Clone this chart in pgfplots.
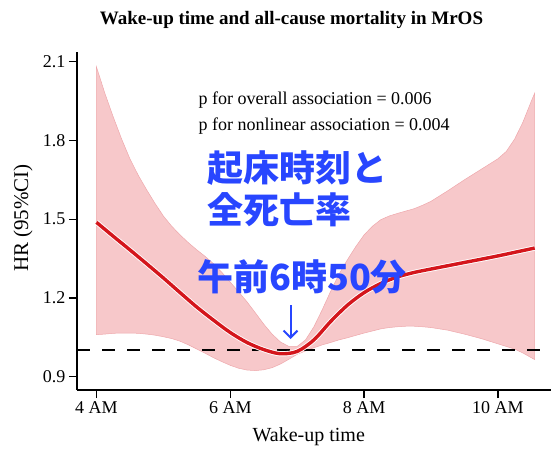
\documentclass[border=0pt]{standalone}
\usepackage{pgfplots}
\pgfplotsset{compat=1.18}
\usepackage{pgfplotstable}
\usetikzlibrary{arrows.meta}
\usepackage{fontspec}
\setmainfont{Liberation Serif}
\newfontfamily\cjk{Noto Sans CJK JP}

\definecolor{bandfill}{RGB}{247,200,202}
\definecolor{bandedge}{RGB}{238,168,172}
\definecolor{hrred}{RGB}{212,22,28}
\definecolor{jpblue}{RGB}{40,70,255}

% spline estimate of the hazard ratio
\pgfplotstableread{
x     hr
4.00  1.488
4.25  1.435
4.50  1.383
4.75  1.330
5.00  1.276
5.25  1.220
5.50  1.165
5.75  1.115
6.00  1.068
6.25  1.030
6.50  1.003
6.75  0.987
7.00  0.996
7.25  1.040
7.50  1.110
7.75  1.172
8.00  1.220
8.25  1.255
8.50  1.280
8.75  1.297
9.00  1.310
9.50  1.335
10.00 1.360
10.55 1.390
}\hrline

% 95% confidence band as one closed outline:
% upper limit left to right, then lower limit right to left
\pgfplotstableread{
x      ci
4.000  2.080
4.125  1.980
4.250  1.890
4.375  1.806
4.500  1.730
4.625  1.667
4.750  1.612
4.875  1.560
5.000  1.512
5.125  1.473
5.250  1.440
5.375  1.410
5.500  1.383
5.625  1.358
5.750  1.330
5.875  1.297
6.000  1.260
6.125  1.223
6.250  1.185
6.375  1.143
6.500  1.100
6.625  1.062
6.750  1.032
6.875  1.015
7.000  1.015
7.125  1.040
7.250  1.090
7.375  1.155
7.500  1.225
7.625  1.290
7.750  1.345
7.875  1.395
8.000  1.440
8.125  1.473
8.250  1.498
8.375  1.512
8.500  1.522
8.625  1.531
8.750  1.540
8.875  1.553
9.000  1.568
9.250  1.608
9.500  1.650
9.750  1.690
10.000 1.730
10.125 1.758
10.250 1.805
10.375 1.870
10.500 1.950
10.550 1.980
10.550 0.965
10.500 0.972
10.375 0.990
10.250 1.005
10.125 1.015
10.000 1.025
9.750  1.045
9.500  1.062
9.250  1.077
9.000  1.087
8.875  1.090
8.750  1.092
8.625  1.092
8.500  1.090
8.375  1.087
8.250  1.082
8.125  1.074
8.000  1.066
7.875  1.057
7.750  1.048
7.625  1.040
7.500  1.030
7.375  1.021
7.250  1.010
7.125  0.998
7.000  0.985
6.875  0.966
6.750  0.948
6.625  0.934
6.500  0.926
6.375  0.923
6.250  0.925
6.125  0.932
6.000  0.943
5.875  0.957
5.750  0.972
5.625  0.989
5.500  1.005
5.375  1.021
5.250  1.035
5.125  1.045
5.000  1.052
4.875  1.058
4.750  1.062
4.625  1.065
4.500  1.066
4.375  1.066
4.250  1.065
4.125  1.062
4.000  1.060
}\hrband

\begin{document}
\begin{tikzpicture}
\useasboundingbox (-77pt,-63pt) rectangle (474pt,390pt);
\begin{axis}[
  at={(0pt,0pt)}, anchor=south west,
  scale only axis, width=474pt, height=338pt,
  xmin=3.709, xmax=10.794, ymin=0.849, ymax=2.137,
  axis x line*=bottom, axis y line*=left,
  axis line style={line width=1.3pt, black},
  tick align=outside, major tick length=8pt,
  tick style={line width=1.3pt, black},
  xtick={4,6,8,10}, xticklabels={4 AM,6 AM,8 AM,10 AM},
  ytick={0.9,1.2,1.5,1.8,2.1},
  yticklabel style={/pgf/number format/fixed, /pgf/number format/fixed zerofill, /pgf/number format/precision=1},
  /pgf/number format/assume math mode=true,
  ticklabel style={font=\fontsize{18}{20}\selectfont},
  xlabel={Wake-up time},
  ylabel={HR (95\%CI)},
  xlabel style={font=\fontsize{20}{22}\selectfont, at={(axis description cs:0.489,0)}, anchor=center, yshift=-47pt},
  ylabel style={font=\fontsize{21}{23}\selectfont, at={(axis description cs:-0.114,0.509)}, anchor=center},
]
\addplot[fill=bandfill, draw=bandedge, line width=0.5pt] table[x=x, y=ci] {\hrband} -- cycle;

\addplot[black, line width=1.8pt, dash pattern=on 13pt off 12pt] coordinates {(3.709,1) (10.794,1)};

\addplot[white, line width=5.2pt, smooth] table[x=x, y=hr] {\hrline};
\addplot[hrred, line width=3.4pt, smooth] table[x=x, y=hr] {\hrline};
\end{axis}

\node[font=\bfseries\fontsize{19}{21}\selectfont] at (214.5pt,370pt) {Wake-up time and all-cause mortality in MrOS};
\node[anchor=west, font=\fontsize{18}{20}\selectfont] at (118pt,290pt) {p for overall association = 0.006};
\node[anchor=west, font=\fontsize{18}{20}\selectfont] at (118pt,264pt) {p for nonlinear association = 0.004};

\node[anchor=west, inner sep=0pt, text=jpblue, font=\cjk\bfseries\fontsize{36}{40}\selectfont] at (130pt,222pt) {起床時刻と};
\node[anchor=west, inner sep=0pt, text=jpblue, font=\cjk\bfseries\fontsize{36}{40}\selectfont] at (130pt,180pt) {全死亡率};
\node[anchor=west, inner sep=0pt, text=jpblue, font=\cjk\bfseries\fontsize{36}{40}\selectfont] at (120pt,113pt) {午前6時50分};
\draw[jpblue, line width=2pt, -{Straight Barb[length=7pt, width=14pt, line width=2pt]}] (213.5pt,85pt) -- (213.5pt,51pt);
\end{tikzpicture}
\end{document}
